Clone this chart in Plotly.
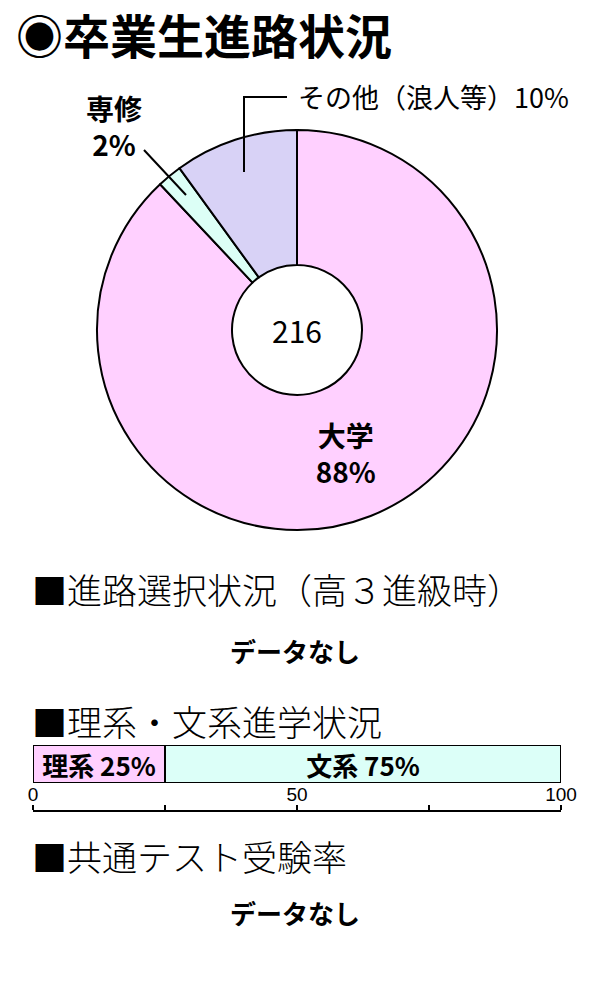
import plotly.graph_objects as go

# ---- data ----
pie_labels = ["大学", "専修", "その他（浪人等）"]
pie_values = [88, 2, 10]
pie_colors = ["#FFD0FF", "#DCFFF6", "#D8D2F6"]
pie_total = 216

bar_labels = ["理系", "文系"]
bar_values = [25, 75]
bar_colors = ["#FFD0FF", "#DCFFF8"]

axis_ticks = [0, 50, 100]

FONT = "Noto Sans CJK JP"

def px(x):
    return x / 600

def py(y):
    return 1 - y / 1000

fig = go.Figure()

fig.add_trace(go.Pie(
    labels=pie_labels,
    values=pie_values,
    sort=False,
    direction="clockwise",
    rotation=0,
    hole=0.325,
    marker=dict(colors=pie_colors, line=dict(color="black", width=2)),
    text=[f"{pie_labels[0]}<br>{pie_values[0]}%", "", ""],
    textinfo="text",
    textposition=["inside", "none", "none"],
    insidetextorientation="horizontal",
    textfont=dict(family=FONT, size=28, color="black", weight="bold"),
    domain=dict(x=[px(97), px(497)], y=[py(530), py(130)]),
    showlegend=False,
    hoverinfo="skip",
))

for lab, val, col in zip(bar_labels, bar_values, bar_colors):
    fig.add_trace(go.Bar(
        x=[val], y=[0], orientation="h",
        marker=dict(color=col, line=dict(color="black", width=2)),
        text=[f"{lab} {val}%"],
        textposition="inside",
        insidetextanchor="middle",
        constraintext="none",
        textangle=0,
        textfont=dict(family=FONT, size=26, color="black", weight="bold"),
        showlegend=False,
        hoverinfo="skip",
        cliponaxis=False,
    ))

annotations = [
    dict(text="◉卒業生進路状況", x=px(14), y=py(33), xanchor="left", yanchor="middle",
         font=dict(family=FONT, size=47, color="black", weight="bold")),
    dict(text=str(pie_total), x=px(297), y=py(330), xanchor="center", yanchor="middle",
         font=dict(family=FONT, size=30, color="black")),
    dict(text=f"{pie_labels[1]}<br>{pie_values[1]}%", x=px(114), y=py(126),
         xanchor="center", yanchor="middle",
         font=dict(family=FONT, size=28, color="black", weight="bold")),
    dict(text=f"{pie_labels[2]}{pie_values[2]}%", x=px(296), y=py(97),
         xanchor="left", yanchor="middle",
         font=dict(family=FONT, size=27, color="black")),
    dict(text="■進路選択状況（高３進級時）", x=px(30), y=py(588), xanchor="left", yanchor="middle",
         font=dict(family=FONT, size=35, color="black", weight=300)),
    dict(text="データなし", x=px(295), y=py(650), xanchor="center", yanchor="middle",
         font=dict(family=FONT, size=26, color="black", weight="bold")),
    dict(text="■理系・文系進学状況", x=px(30), y=py(720), xanchor="left", yanchor="middle",
         font=dict(family=FONT, size=35, color="black", weight=300)),
    dict(text="■共通テスト受験率", x=px(30), y=py(855), xanchor="left", yanchor="middle",
         font=dict(family=FONT, size=35, color="black", weight=300)),
    dict(text="データなし", x=px(295), y=py(912), xanchor="center", yanchor="middle",
         font=dict(family=FONT, size=26, color="black", weight="bold")),
]
for a in annotations:
    a.update(xref="paper", yref="paper", showarrow=False)

shapes = [
    dict(type="line", xref="paper", yref="paper",
         x0=px(144), y0=py(150), x1=px(186), y1=py(195),
         line=dict(color="black", width=2)),
    dict(type="path", xref="paper", yref="paper",
         path=f"M {px(244)} {py(172)} L {px(244)} {py(97)} L {px(287)} {py(97)}",
         line=dict(color="black", width=2)),
]

fig.update_layout(
    width=600, height=1000, autosize=False,
    margin=dict(l=0, r=0, t=0, b=0, pad=0, autoexpand=False),
    paper_bgcolor="white", plot_bgcolor="white",
    barmode="stack", bargap=0,
    annotations=annotations, shapes=shapes,
    xaxis=dict(
        domain=[px(33), px(561)], range=[0, 100],
        anchor="free", position=py(811), side="top",
        automargin=False,
        showline=True, linecolor="black", linewidth=2,
        ticks="outside", ticklen=5, tickwidth=2, tickcolor="black",
        tickvals=axis_ticks, ticktext=[str(t) for t in axis_ticks],
        minor=dict(tickvals=[25, 75], ticks="outside", ticklen=5, tickwidth=2, tickcolor="black"),
        ticklabelstandoff=-4,
        showgrid=False, zeroline=False,
        tickfont=dict(family="Liberation Sans Narrow, Liberation Sans", size=19, color="black"),
        fixedrange=True,
    ),
    yaxis=dict(
        domain=[py(783), py(745)], range=[-0.5, 0.5],
        visible=False, fixedrange=True, automargin=False,
    ),
)

fig.write_html("out.html", config={"displayModeBar": False},
               post_script="document.body.style.margin='0';")
